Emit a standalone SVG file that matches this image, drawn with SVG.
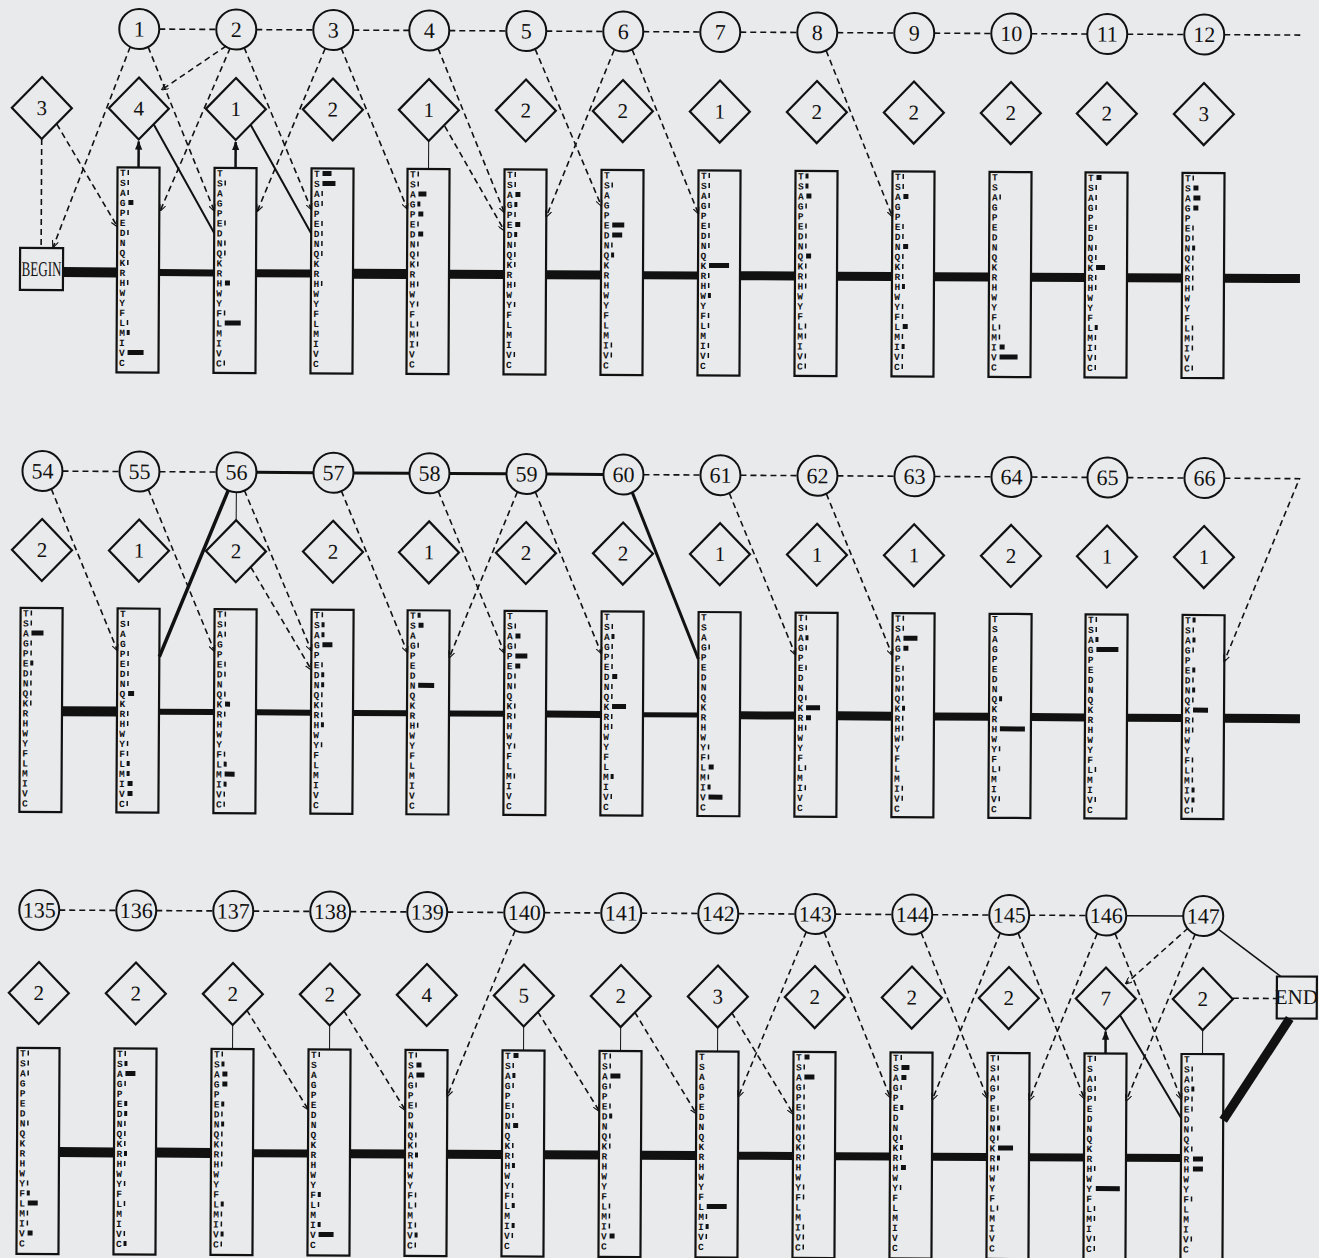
<svg xmlns="http://www.w3.org/2000/svg" xmlns:xlink="http://www.w3.org/1999/xlink" width="1319" height="1258" viewBox="0 0 1319 1258">
<defs>
<style>
.bg{fill:#e9eaec}
.cn{fill:none;stroke:#111;stroke-width:2}
.dm{fill:none;stroke:#111;stroke-width:2.2}
.bx{fill:none;stroke:#111;stroke-width:2.2}
.lbl{font-family:"Liberation Serif",serif;font-size:21px;text-anchor:middle;fill:#111}
.cl{font-size:22px}
.aa{font-family:"Liberation Mono",monospace;font-weight:bold;font-size:9.5px;fill:#111}
.bar{fill:none;stroke:#111;stroke-width:5;transform:translateX(1px)}
.d{fill:none;stroke:#111;stroke-width:1.6;stroke-dasharray:6 4}
.da{fill:none;stroke:#111;stroke-width:1.6;stroke-dasharray:6 4;marker-end:url(#ah)}
.s{fill:none;stroke:#111}
.m{fill:none;stroke:#111}
</style>
<marker id="ah" viewBox="0 0 10 10" refX="9" refY="5" markerWidth="7" markerHeight="7" markerUnits="userSpaceOnUse" orient="auto"><path d="M0 0.5L10 5L0 9.5" fill="none" stroke="#111" stroke-width="1.6"/></marker>
<marker id="as" viewBox="0 0 10 10" refX="9" refY="5" markerWidth="9" markerHeight="9" markerUnits="userSpaceOnUse" orient="auto"><path d="M0 1L10 5L0 9z" fill="#111"/></marker>
<path id="dia" d="M0 -31L30 0L0 31L-30 0Z" class="dm"/>
<text id="aa" class="aa" x="2.5" y="8.5">T<tspan x="2.5" dy="10">S</tspan><tspan x="2.5" dy="10">A</tspan><tspan x="2.5" dy="10">G</tspan><tspan x="2.5" dy="10">P</tspan><tspan x="2.5" dy="10">E</tspan><tspan x="2.5" dy="10">D</tspan><tspan x="2.5" dy="10">N</tspan><tspan x="2.5" dy="10">Q</tspan><tspan x="2.5" dy="10">K</tspan><tspan x="2.5" dy="10">R</tspan><tspan x="2.5" dy="10">H</tspan><tspan x="2.5" dy="10">W</tspan><tspan x="2.5" dy="10">Y</tspan><tspan x="2.5" dy="10">F</tspan><tspan x="2.5" dy="10">L</tspan><tspan x="2.5" dy="10">M</tspan><tspan x="2.5" dy="10">I</tspan><tspan x="2.5" dy="10">V</tspan><tspan x="2.5" dy="10">C</tspan></text>
</defs>
<rect class="bg" width="1319" height="1258"/>

<g id="connectors">
<g id="conn-row1" transform="rotate(0.3 41 272)">
<path class="m" stroke-width="10" d="M63 272H117M353 272H407"/>
<path class="m" stroke-width="9" d="M449 272H504M546 272H601M740 272H795M837 272H892M934 272H989M1031 272H1085M1127 272H1182M1224 272H1300"/>
<path class="m" stroke-width="8" d="M256 272H311M643 272H698"/>
<path class="m" stroke-width="7" d="M159 272H214"/>
<path class="d" d="M158 28.5H215M255 28.5H312M352 28.5H408M448 28.5H505M545 28.5H602M642 28.5H699M739 28.5H796M836 28.5H893M933 28.5H990M1030 28.5H1086M1126 28.5H1183M1223 28.5H1300"/>
<path class="d" d="M41 139V247"/>
<path class="da" d="M56 124L117 226"/>
<path class="da" d="M129 46.5L53 247"/>
<path class="da" d="M147 46.5L214 210"/>
<path class="da" d="M225 45L161 89"/>
<path class="da" d="M229 47L160 210"/>
<path class="da" d="M243 46.5L311 208"/>
<path class="da" d="M324 47L257 210"/>
<path class="da" d="M340 46.5L407 207"/>
<path class="da" d="M437 46.5L504 210"/>
<path class="da" d="M444 124L504 228"/>
<path class="da" d="M534 46.5L601 203"/>
<path class="da" d="M613 47L546 214"/>
<path class="da" d="M631 46.5L698 210"/>
<path class="da" d="M825 46.5L892 212"/>
<path class="s" stroke-width="2.5" marker-end="url(#as)" d="M138 167V141"/>
<path class="s" stroke-width="2.5" marker-end="url(#as)" d="M235 167V141"/>
<path class="s" stroke-width="2" d="M153 124L214 232M250 124L311 232"/>
<path class="s" stroke-width="1" d="M428 139V167"/>
</g>
<g id="conn-row2" transform="rotate(0.35 41 711)">
<path class="m" stroke-width="10" d="M62 711H117"/>
<path class="m" stroke-width="6" d="M159 711H214M256 711H311M353 711H407M449 711H504"/>
<path class="m" stroke-width="7" d="M546 711H601"/>
<path class="m" stroke-width="5" d="M643 711H698"/>
<path class="m" stroke-width="8" d="M740 711H795M934 711H989M1031 711H1085M1127 711H1182"/>
<path class="m" stroke-width="9" d="M837 711H892M1224 711H1300"/>
<path class="d" d="M61 471H118M158 471H215M642 471H699M739 471H796M836 471H893M933 471H990M1030 471H1086M1126 471H1183"/>
<path class="da" d="M1223 471H1298L1224 654"/>
<path class="s" stroke-width="3" d="M255 471H312M352 471H408M448 471H505M545 471H602"/>
<path class="da" d="M50 489L117 650"/>
<path class="da" d="M147 489L214 650"/>
<path class="da" d="M243 489L311 649"/>
<path class="da" d="M250 566L311 668"/>
<path class="da" d="M340 489L407 650"/>
<path class="da" d="M437 489L504 650"/>
<path class="da" d="M516 489L449 655"/>
<path class="da" d="M534 489L601 650"/>
<path class="da" d="M728 489L795 650"/>
<path class="da" d="M825 489L892 650"/>
<path class="s" stroke-width="3.5" d="M227 489L159 656"/>
<path class="s" stroke-width="1" d="M235 491V519"/>
<path class="s" stroke-width="3" d="M631 489L698 655"/>
</g>
<g id="conn-row3" transform="rotate(0.3 38 1152)">
<path class="m" stroke-width="10" d="M59 1152H114M156 1152H211"/>
<path class="m" stroke-width="9" d="M350 1152H405M447 1152H502M544 1152H599M641 1152H696"/>
<path class="m" stroke-width="8" d="M253 1152H308M738 1152H793M835 1152H890M932 1152H987M1029 1152H1084M1126 1152H1181"/>
<path class="d" d="M58 910H115M155 910H212M252 910H309M349 910H406M446 910H503M543 910H600M640 910H697M737 910H794M834 910H891M931 910H988M1028 910H1085"/>
<path class="s" stroke-width="1.5" d="M1125 910H1182"/>
<path class="da" d="M246 1009L308 1108"/>
<path class="da" d="M343 1009L405 1108"/>
<path class="da" d="M514 928L447 1094"/>
<path class="da" d="M537 1009L599 1108"/>
<path class="da" d="M634 1009L696 1110"/>
<path class="da" d="M731 1009L793 1110"/>
<path class="da" d="M805 928L738 1093"/>
<path class="da" d="M823 928L890 1093"/>
<path class="da" d="M920 928L987 1093"/>
<path class="da" d="M999 928L932 1095"/>
<path class="da" d="M1017 928L1084 1093"/>
<path class="da" d="M1096 928L1029 1095"/>
<path class="da" d="M1114 928L1181 1093"/>
<path class="da" d="M1187 922L1125 978"/>
<path class="da" d="M1194 928L1126 1095"/>
<path class="d" d="M1232 992H1276"/>
<path class="s" stroke-width="1" d="M232 1024V1048M329 1024V1048M523 1024V1048M620 1024V1048M717 1024V1048M1202 1024V1048"/>
<path class="s" stroke-width="2.5" marker-end="url(#as)" d="M1105 1048V1026"/>
<path class="s" stroke-width="2" d="M1119 1009L1181 1112"/>
<path class="s" stroke-width="1.5" d="M1217 923L1280 970"/>
<path class="s" stroke-width="9" d="M1223 1114L1289 1012"/>
</g>
</g>

<g id="row1" transform="rotate(0.3 41 272)">
<g id="begin"><rect x="20" y="248" width="43" height="42" class="bx"/><text x="41.5" y="276" class="lbl" font-size="18" textLength="40" lengthAdjust="spacingAndGlyphs">BEGIN</text></g>
<g id="r1i0"><use href="#dia" x="41" y="108"/><text x="41" y="115" class="lbl">3</text></g>
<g id="r1i1"><use href="#dia" x="138" y="108"/><text x="138" y="115" class="lbl">4</text></g>
<g id="r1i2"><use href="#dia" x="235" y="108"/><text x="235" y="115" class="lbl">1</text></g>
<g id="r1i3"><use href="#dia" x="332" y="108"/><text x="332" y="115" class="lbl">2</text></g>
<g id="r1i4"><use href="#dia" x="428" y="108"/><text x="428" y="115" class="lbl">1</text></g>
<g id="r1i5"><use href="#dia" x="525" y="108"/><text x="525" y="115" class="lbl">2</text></g>
<g id="r1i6"><use href="#dia" x="622" y="108"/><text x="622" y="115" class="lbl">2</text></g>
<g id="r1i7"><use href="#dia" x="719" y="108"/><text x="719" y="115" class="lbl">1</text></g>
<g id="r1i8"><use href="#dia" x="816" y="108"/><text x="816" y="115" class="lbl">2</text></g>
<g id="r1i9"><use href="#dia" x="913" y="108"/><text x="913" y="115" class="lbl">2</text></g>
<g id="r1i10"><use href="#dia" x="1010" y="108"/><text x="1010" y="115" class="lbl">2</text></g>
<g id="r1i11"><use href="#dia" x="1106" y="108"/><text x="1106" y="115" class="lbl">2</text></g>
<g id="r1i12"><use href="#dia" x="1203" y="108"/><text x="1203" y="115" class="lbl">3</text></g>
<g id="r1c1"><circle cx="138" cy="28.5" r="20" class="cn"/><text x="138" y="36" class="lbl cl">1</text></g>
<g id="r1c2"><circle cx="235" cy="28.5" r="20" class="cn"/><text x="235" y="36" class="lbl cl">2</text></g>
<g id="r1c3"><circle cx="332" cy="28.5" r="20" class="cn"/><text x="332" y="36" class="lbl cl">3</text></g>
<g id="r1c4"><circle cx="428" cy="28.5" r="20" class="cn"/><text x="428" y="36" class="lbl cl">4</text></g>
<g id="r1c5"><circle cx="525" cy="28.5" r="20" class="cn"/><text x="525" y="36" class="lbl cl">5</text></g>
<g id="r1c6"><circle cx="622" cy="28.5" r="20" class="cn"/><text x="622" y="36" class="lbl cl">6</text></g>
<g id="r1c7"><circle cx="719" cy="28.5" r="20" class="cn"/><text x="719" y="36" class="lbl cl">7</text></g>
<g id="r1c8"><circle cx="816" cy="28.5" r="20" class="cn"/><text x="816" y="36" class="lbl cl">8</text></g>
<g id="r1c9"><circle cx="913" cy="28.5" r="20" class="cn"/><text x="913" y="36" class="lbl cl">9</text></g>
<g id="r1c10"><circle cx="1010" cy="28.5" r="20" class="cn"/><text x="1010" y="36" class="lbl cl">10</text></g>
<g id="r1c11"><circle cx="1106" cy="28.5" r="20" class="cn"/><text x="1106" y="36" class="lbl cl">11</text></g>
<g id="r1c12"><circle cx="1203" cy="28.5" r="20" class="cn"/><text x="1203" y="36" class="lbl cl">12</text></g>
<g id="r1m1" transform="translate(117,167)"><rect width="42" height="205" class="bx"/><use href="#aa"/><path class="bar" d="M9 5h1.5M9 15h1.5M9 25h1.5M10 35h5M9 45h1.5M9 65h1.5M9 95h1.5M9 115h1.5M9 155h1.5M9 165h3M10 185h16"/></g>
<g id="r1m2" transform="translate(214,167)"><rect width="42" height="205" class="bx"/><use href="#aa"/><path class="bar" d="M9 15h1.5M9 55h1.5M9 75h1.5M9 85h1.5M10 115h5M9 145h1.5M10 155h16M9 195h1.5"/></g>
<g id="r1m3" transform="translate(311,167)"><rect width="42" height="205" class="bx"/><use href="#aa"/><path class="bar" d="M10 5h9M10 15h13M9 25h1.5M9 35h1.5M9 55h1.5M9 65h1.5M9 75h1.5M9 85h1.5M9 115h1.5"/></g>
<g id="r1m4" transform="translate(407,167)"><rect width="42" height="205" class="bx"/><use href="#aa"/><path class="bar" d="M9 5h1.5M9 15h1.5M10 25h8M9 35h3M10 45h5M9 55h1.5M10 65h5M9 75h1.5M9 85h1.5M9 95h1.5M9 115h1.5M9 135h1.5M9 155h1.5M9 165h1.5M9 175h1.5"/></g>
<g id="r1m5" transform="translate(504,167)"><rect width="42" height="205" class="bx"/><use href="#aa"/><path class="bar" d="M9 5h1.5M9 15h1.5M10 25h5M9 35h3M9 45h1.5M10 55h5M9 65h3M9 75h1.5M9 85h1.5M9 95h1.5M9 115h1.5M9 135h1.5M9 185h1.5"/></g>
<g id="r1m6" transform="translate(601,167)"><rect width="42" height="205" class="bx"/><use href="#aa"/><path class="bar" d="M9 15h1.5M10 55h12M10 65h10M9 75h1.5M9 85h3M9 175h1.5M9 185h1.5"/></g>
<g id="r1m7" transform="translate(698,167)"><rect width="42" height="205" class="bx"/><use href="#aa"/><path class="bar" d="M9 5h1.5M9 15h1.5M9 25h1.5M9 35h1.5M9 55h1.5M9 65h1.5M9 75h1.5M10 95h20M9 105h1.5M9 115h1.5M9 125h3M9 145h1.5M9 155h1.5M9 175h1.5M9 185h1.5"/></g>
<g id="r1m8" transform="translate(795,167)"><rect width="42" height="205" class="bx"/><use href="#aa"/><path class="bar" d="M9 5h3M9 15h3M10 25h5M9 35h1.5M9 55h1.5M9 65h1.5M9 75h1.5M10 85h5M9 95h1.5M9 105h1.5M9 115h1.5M9 155h1.5M9 165h1.5M9 185h1.5M9 195h1.5"/></g>
<g id="r1m9" transform="translate(892,167)"><rect width="42" height="205" class="bx"/><use href="#aa"/><path class="bar" d="M9 5h1.5M9 15h1.5M10 25h5M9 55h1.5M9 65h1.5M10 75h5M9 85h1.5M9 95h1.5M9 105h1.5M9 115h3M9 135h1.5M9 145h1.5M10 155h5M9 165h1.5M9 175h3M9 185h1.5M9 195h1.5"/></g>
<g id="r1m10" transform="translate(989,167)"><rect width="42" height="205" class="bx"/><use href="#aa"/><path class="bar" d="M9 25h1.5M9 155h1.5M9 165h1.5M10 175h5M10 185h18"/></g>
<g id="r1m11" transform="translate(1085,167)"><rect width="42" height="205" class="bx"/><use href="#aa"/><path class="bar" d="M10 5h5M9 15h1.5M9 25h1.5M9 35h1.5M9 55h1.5M9 75h1.5M9 85h1.5M10 95h9M9 105h1.5M9 115h1.5M9 155h3M9 165h1.5M9 175h1.5M9 185h1.5M9 195h1.5"/></g>
<g id="r1m12" transform="translate(1182,167)"><rect width="42" height="205" class="bx"/><use href="#aa"/><path class="bar" d="M9 5h1.5M10 15h5M10 25h7M10 35h5M9 55h1.5M9 65h1.5M9 75h3M9 85h1.5M9 95h1.5M9 105h1.5M9 115h1.5M9 155h1.5M9 165h1.5M9 175h1.5M9 195h1.5"/></g>
</g>

<g id="row2" transform="rotate(0.35 41 711)">
<g id="r2i0"><use href="#dia" x="41" y="550"/><text x="41" y="557" class="lbl">2</text></g>
<g id="r2i1"><use href="#dia" x="138" y="550"/><text x="138" y="557" class="lbl">1</text></g>
<g id="r2i2"><use href="#dia" x="235" y="550"/><text x="235" y="557" class="lbl">2</text></g>
<g id="r2i3"><use href="#dia" x="332" y="550"/><text x="332" y="557" class="lbl">2</text></g>
<g id="r2i4"><use href="#dia" x="428" y="550"/><text x="428" y="557" class="lbl">1</text></g>
<g id="r2i5"><use href="#dia" x="525" y="550"/><text x="525" y="557" class="lbl">2</text></g>
<g id="r2i6"><use href="#dia" x="622" y="550"/><text x="622" y="557" class="lbl">2</text></g>
<g id="r2i7"><use href="#dia" x="719" y="550"/><text x="719" y="557" class="lbl">1</text></g>
<g id="r2i8"><use href="#dia" x="816" y="550"/><text x="816" y="557" class="lbl">1</text></g>
<g id="r2i9"><use href="#dia" x="913" y="550"/><text x="913" y="557" class="lbl">1</text></g>
<g id="r2i10"><use href="#dia" x="1010" y="550"/><text x="1010" y="557" class="lbl">2</text></g>
<g id="r2i11"><use href="#dia" x="1106" y="550"/><text x="1106" y="557" class="lbl">1</text></g>
<g id="r2i12"><use href="#dia" x="1203" y="550"/><text x="1203" y="557" class="lbl">1</text></g>
<g id="r2c0"><circle cx="41" cy="471" r="20" class="cn"/><text x="41" y="478.5" class="lbl cl">54</text></g>
<g id="r2c1"><circle cx="138" cy="471" r="20" class="cn"/><text x="138" y="478.5" class="lbl cl">55</text></g>
<g id="r2c2"><circle cx="235" cy="471" r="20" class="cn"/><text x="235" y="478.5" class="lbl cl">56</text></g>
<g id="r2c3"><circle cx="332" cy="471" r="20" class="cn"/><text x="332" y="478.5" class="lbl cl">57</text></g>
<g id="r2c4"><circle cx="428" cy="471" r="20" class="cn"/><text x="428" y="478.5" class="lbl cl">58</text></g>
<g id="r2c5"><circle cx="525" cy="471" r="20" class="cn"/><text x="525" y="478.5" class="lbl cl">59</text></g>
<g id="r2c6"><circle cx="622" cy="471" r="20" class="cn"/><text x="622" y="478.5" class="lbl cl">60</text></g>
<g id="r2c7"><circle cx="719" cy="471" r="20" class="cn"/><text x="719" y="478.5" class="lbl cl">61</text></g>
<g id="r2c8"><circle cx="816" cy="471" r="20" class="cn"/><text x="816" y="478.5" class="lbl cl">62</text></g>
<g id="r2c9"><circle cx="913" cy="471" r="20" class="cn"/><text x="913" y="478.5" class="lbl cl">63</text></g>
<g id="r2c10"><circle cx="1010" cy="471" r="20" class="cn"/><text x="1010" y="478.5" class="lbl cl">64</text></g>
<g id="r2c11"><circle cx="1106" cy="471" r="20" class="cn"/><text x="1106" y="478.5" class="lbl cl">65</text></g>
<g id="r2c12"><circle cx="1203" cy="471" r="20" class="cn"/><text x="1203" y="478.5" class="lbl cl">66</text></g>
<g id="r2m0" transform="translate(20,608)"><rect width="42" height="204" class="bx"/><use href="#aa"/><path class="bar" d="M9 5h1.5M9 15h1.5M10 25h12M9 35h1.5M9 45h1.5M9 55h3M9 65h1.5M9 75h1.5M9 85h1.5M9 95h1.5"/></g>
<g id="r2m1" transform="translate(117,608)"><rect width="42" height="204" class="bx"/><use href="#aa"/><path class="bar" d="M9 15h1.5M9 45h1.5M9 55h1.5M9 65h1.5M9 75h1.5M10 85h6M9 105h1.5M9 115h1.5M9 135h1.5M9 145h1.5M9 155h3M9 165h3M10 175h5M10 185h5M9 195h1.5"/></g>
<g id="r2m2" transform="translate(214,608)"><rect width="42" height="204" class="bx"/><use href="#aa"/><path class="bar" d="M9 5h1.5M9 15h1.5M9 25h1.5M9 55h1.5M9 65h1.5M9 85h1.5M10 95h5M9 105h1.5M9 145h1.5M9 155h3M10 165h10M9 175h3M9 185h1.5M9 195h1.5"/></g>
<g id="r2m3" transform="translate(311,608)"><rect width="42" height="204" class="bx"/><use href="#aa"/><path class="bar" d="M9 5h1.5M9 15h3M9 25h3M10 35h10M9 55h1.5M9 65h3M9 75h3M9 85h1.5M9 95h1.5M9 105h1.5M9 115h3M9 135h1.5"/></g>
<g id="r2m4" transform="translate(407,608)"><rect width="42" height="204" class="bx"/><use href="#aa"/><path class="bar" d="M9 5h3M10 15h5M9 35h1.5M10 75h16M9 115h1.5"/></g>
<g id="r2m5" transform="translate(504,608)"><rect width="42" height="204" class="bx"/><use href="#aa"/><path class="bar" d="M9 15h1.5M10 25h5M9 35h1.5M10 45h12M10 55h5M9 65h1.5M9 75h1.5M9 95h1.5M9 105h1.5M9 135h1.5M9 165h1.5"/></g>
<g id="r2m6" transform="translate(601,608)"><rect width="42" height="204" class="bx"/><use href="#aa"/><path class="bar" d="M9 15h1.5M9 25h3M9 35h1.5M9 45h1.5M9 55h1.5M10 65h5M9 75h1.5M9 85h1.5M10 95h14M9 105h1.5M9 115h1.5M9 165h3M9 185h1.5"/></g>
<g id="r2m7" transform="translate(698,608)"><rect width="42" height="204" class="bx"/><use href="#aa"/><path class="bar" d="M9 35h1.5M9 135h1.5M9 145h1.5M10 155h5M9 165h1.5M9 175h3M10 185h14"/></g>
<g id="r2m8" transform="translate(795,608)"><rect width="42" height="204" class="bx"/><use href="#aa"/><path class="bar" d="M9 5h1.5M9 15h1.5M9 25h3M9 35h1.5M9 55h1.5M9 85h1.5M10 95h14M10 105h5M9 115h1.5M9 155h1.5M9 175h1.5"/></g>
<g id="r2m9" transform="translate(892,608)"><rect width="42" height="204" class="bx"/><use href="#aa"/><path class="bar" d="M9 5h1.5M9 15h1.5M10 25h14M10 35h5M9 55h1.5M9 65h1.5M9 75h1.5M9 85h1.5M9 95h3M9 105h1.5M9 115h1.5M9 125h1.5M9 175h1.5M9 185h1.5"/></g>
<g id="r2m10" transform="translate(989,608)"><rect width="42" height="204" class="bx"/><use href="#aa"/><path class="bar" d="M9 85h3M10 115h25M9 135h1.5M9 155h1.5M9 185h1.5"/></g>
<g id="r2m11" transform="translate(1085,608)"><rect width="42" height="204" class="bx"/><use href="#aa"/><path class="bar" d="M9 5h1.5M9 15h1.5M9 25h3M10 35h22M9 155h1.5M9 185h1.5"/></g>
<g id="r2m12" transform="translate(1182,608)"><rect width="42" height="204" class="bx"/><use href="#aa"/><path class="bar" d="M9 5h3M9 15h1.5M9 25h3M9 35h1.5M9 55h3M9 65h1.5M9 75h3M9 85h1.5M10 95h15M9 105h1.5M9 115h1.5M9 145h1.5M9 155h1.5M9 165h1.5M9 175h3M9 185h3M9 195h1.5"/></g>
</g>

<g id="row3" transform="rotate(0.3 38 1152)">
<g id="r3i0"><use href="#dia" x="38" y="993"/><text x="38" y="1000" class="lbl">2</text></g>
<g id="r3i1"><use href="#dia" x="135" y="993"/><text x="135" y="1000" class="lbl">2</text></g>
<g id="r3i2"><use href="#dia" x="232" y="993"/><text x="232" y="1000" class="lbl">2</text></g>
<g id="r3i3"><use href="#dia" x="329" y="993"/><text x="329" y="1000" class="lbl">2</text></g>
<g id="r3i4"><use href="#dia" x="426" y="993"/><text x="426" y="1000" class="lbl">4</text></g>
<g id="r3i5"><use href="#dia" x="523" y="993"/><text x="523" y="1000" class="lbl">5</text></g>
<g id="r3i6"><use href="#dia" x="620" y="993"/><text x="620" y="1000" class="lbl">2</text></g>
<g id="r3i7"><use href="#dia" x="717" y="993"/><text x="717" y="1000" class="lbl">3</text></g>
<g id="r3i8"><use href="#dia" x="814" y="993"/><text x="814" y="1000" class="lbl">2</text></g>
<g id="r3i9"><use href="#dia" x="911" y="993"/><text x="911" y="1000" class="lbl">2</text></g>
<g id="r3i10"><use href="#dia" x="1008" y="993"/><text x="1008" y="1000" class="lbl">2</text></g>
<g id="r3i11"><use href="#dia" x="1105" y="993"/><text x="1105" y="1000" class="lbl">7</text></g>
<g id="r3i12"><use href="#dia" x="1202" y="993"/><text x="1202" y="1000" class="lbl">2</text></g>
<g id="r3c0"><circle cx="38" cy="910" r="20" class="cn"/><text x="38" y="917.5" class="lbl cl">135</text></g>
<g id="r3c1"><circle cx="135" cy="910" r="20" class="cn"/><text x="135" y="917.5" class="lbl cl">136</text></g>
<g id="r3c2"><circle cx="232" cy="910" r="20" class="cn"/><text x="232" y="917.5" class="lbl cl">137</text></g>
<g id="r3c3"><circle cx="329" cy="910" r="20" class="cn"/><text x="329" y="917.5" class="lbl cl">138</text></g>
<g id="r3c4"><circle cx="426" cy="910" r="20" class="cn"/><text x="426" y="917.5" class="lbl cl">139</text></g>
<g id="r3c5"><circle cx="523" cy="910" r="20" class="cn"/><text x="523" y="917.5" class="lbl cl">140</text></g>
<g id="r3c6"><circle cx="620" cy="910" r="20" class="cn"/><text x="620" y="917.5" class="lbl cl">141</text></g>
<g id="r3c7"><circle cx="717" cy="910" r="20" class="cn"/><text x="717" y="917.5" class="lbl cl">142</text></g>
<g id="r3c8"><circle cx="814" cy="910" r="20" class="cn"/><text x="814" y="917.5" class="lbl cl">143</text></g>
<g id="r3c9"><circle cx="911" cy="910" r="20" class="cn"/><text x="911" y="917.5" class="lbl cl">144</text></g>
<g id="r3c10"><circle cx="1008" cy="910" r="20" class="cn"/><text x="1008" y="917.5" class="lbl cl">145</text></g>
<g id="r3c11"><circle cx="1105" cy="910" r="20" class="cn"/><text x="1105" y="917.5" class="lbl cl">146</text></g>
<g id="r3c12"><circle cx="1202" cy="910" r="20" class="cn"/><text x="1202" y="917.5" class="lbl cl">147</text></g>
<g id="end"><rect x="1276" y="970" width="40" height="42" class="bx"/><text x="1295.5" y="997.5" class="lbl" font-size="16.5">END</text></g>
<g id="r3m0" transform="translate(17,1048)"><rect width="42" height="206" class="bx"/><use href="#aa"/><path class="bar" d="M9 5h1.5M9 15h1.5M9 25h1.5M9 75h1.5M9 135h1.5M9 145h3M10 155h10M9 165h1.5M9 175h1.5M10 185h5"/></g>
<g id="r3m1" transform="translate(114,1048)"><rect width="42" height="206" class="bx"/><use href="#aa"/><path class="bar" d="M9 5h1.5M9 15h3M10 25h10M9 35h1.5M9 55h3M9 65h3M9 75h1.5M9 85h1.5M9 95h1.5M9 105h3M9 115h1.5M9 135h1.5M9 155h1.5M9 185h1.5M9 195h3"/></g>
<g id="r3m2" transform="translate(211,1048)"><rect width="42" height="206" class="bx"/><use href="#aa"/><path class="bar" d="M9 5h1.5M9 15h3M10 25h5M10 35h5M9 55h3M9 65h1.5M9 75h3M9 85h1.5M9 95h1.5M9 105h1.5M9 115h1.5M9 155h3M9 165h1.5M9 175h1.5M9 185h3M9 195h1.5"/></g>
<g id="r3m3" transform="translate(308,1048)"><rect width="42" height="206" class="bx"/><use href="#aa"/><path class="bar" d="M9 5h1.5M9 145h3M9 155h1.5M9 175h3M10 185h15"/></g>
<g id="r3m4" transform="translate(405,1048)"><rect width="42" height="206" class="bx"/><use href="#aa"/><path class="bar" d="M9 5h1.5M10 15h5M10 25h8M9 35h1.5M9 55h1.5M9 85h1.5M9 95h1.5M9 105h3M9 145h1.5M9 155h1.5M9 175h1.5M9 185h3M9 195h1.5"/></g>
<g id="r3m5" transform="translate(502,1048)"><rect width="42" height="206" class="bx"/><use href="#aa"/><path class="bar" d="M10 5h5M9 15h1.5M9 25h3M9 35h1.5M9 55h1.5M9 65h1.5M10 75h5M9 95h1.5M9 105h1.5M9 115h3M9 135h1.5M9 145h1.5M9 155h3M9 175h3M9 185h1.5"/></g>
<g id="r3m6" transform="translate(599,1048)"><rect width="42" height="206" class="bx"/><use href="#aa"/><path class="bar" d="M9 5h1.5M9 15h1.5M10 25h10M9 35h1.5M9 55h1.5M9 65h3M9 85h1.5M9 95h1.5M9 155h1.5M9 165h1.5M9 175h1.5M10 185h5"/></g>
<g id="r3m7" transform="translate(696,1048)"><rect width="42" height="206" class="bx"/><use href="#aa"/><path class="bar" d="M10 155h20M9 165h1.5M9 175h3M9 185h1.5"/></g>
<g id="r3m8" transform="translate(793,1048)"><rect width="42" height="206" class="bx"/><use href="#aa"/><path class="bar" d="M10 5h5M9 15h1.5M10 25h10M9 35h1.5M9 45h1.5M9 55h1.5M9 65h1.5M9 75h1.5M9 85h1.5M9 95h1.5M9 105h1.5M9 135h1.5M9 145h1.5M9 175h1.5M9 185h1.5M9 195h1.5"/></g>
<g id="r3m9" transform="translate(890,1048)"><rect width="42" height="206" class="bx"/><use href="#aa"/><path class="bar" d="M9 5h1.5M10 15h8M10 25h5M9 35h1.5M9 55h3M9 85h1.5M9 95h3M9 105h1.5M10 115h5M9 135h1.5"/></g>
<g id="r3m10" transform="translate(987,1048)"><rect width="42" height="206" class="bx"/><use href="#aa"/><path class="bar" d="M9 5h1.5M9 15h1.5M9 25h1.5M9 35h1.5M9 55h1.5M9 65h1.5M9 75h3M9 85h1.5M10 95h15M9 105h3M9 115h1.5M9 155h1.5"/></g>
<g id="r3m11" transform="translate(1084,1048)"><rect width="42" height="206" class="bx"/><use href="#aa"/><path class="bar" d="M9 5h1.5M9 25h1.5M9 35h1.5M9 45h1.5M9 115h1.5M11 135h24M9 155h1.5M9 165h1.5M9 185h1.5M9 195h1.5"/></g>
<g id="r3m12" transform="translate(1181,1048)"><rect width="42" height="206" class="bx"/><use href="#aa"/><path class="bar" d="M9 15h1.5M9 25h1.5M9 35h3M9 45h1.5M9 55h1.5M9 75h1.5M9 95h1.5M11 105h10M11 115h10M9 145h1.5M9 185h1.5"/></g>
</g>
</svg>
